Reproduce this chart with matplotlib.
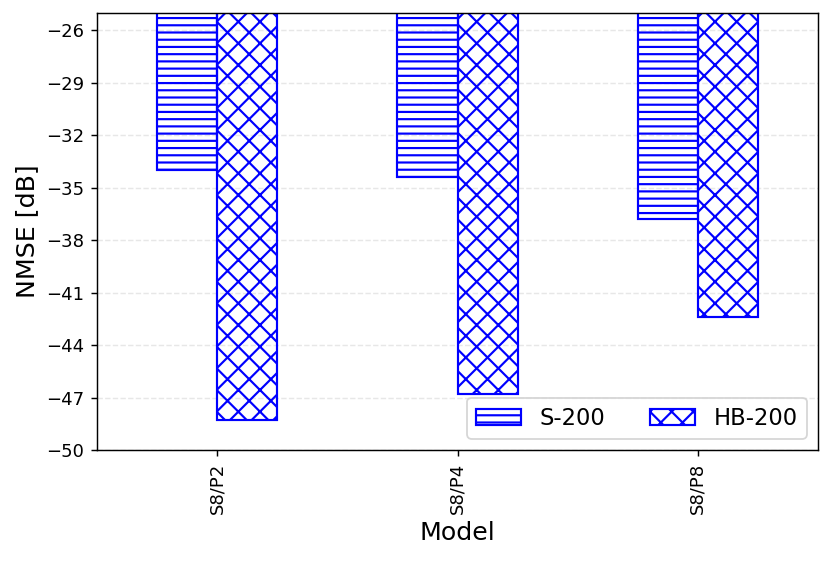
import numpy as np
import matplotlib.pyplot as plt

models = ['S8/P2', 'S8/P4', 'S8/P8']
s200 = [-34.0, -34.4, -36.8]
hb200 = [-48.3, -46.8, -42.4]

x = np.arange(len(models))
width = 0.25

plt.rcParams['hatch.linewidth'] = 1.2

fig, ax = plt.subplots(figsize=(830 / 130, 562 / 130), dpi=130)
fig.subplots_adjust(left=0.117, right=0.9855, top=0.977, bottom=0.199)

ax.bar(x - width / 2, s200, width, facecolor='none', edgecolor='blue',
       hatch='---', linewidth=1.2, label='S-200')
ax.bar(x + width / 2, hb200, width, facecolor='none', edgecolor='blue',
       hatch='xx', linewidth=1.2, label='HB-200')

ax.set_xlim(-0.5, 2.5)
ax.set_ylim(-50, -25)
ax.set_yticks(np.arange(-50, -25, 3))
ax.set_xticks(x)
ax.set_xticklabels(models, rotation=90)
ax.set_xlabel('Model', fontsize=14)
ax.set_ylabel('NMSE [dB]', fontsize=14)
ax.grid(axis='y', linestyle='--', alpha=0.3)
ax.set_axisbelow(True)
ax.legend(loc='lower right', ncol=2, fontsize=12.5)

fig.savefig('out.png', dpi=130)
